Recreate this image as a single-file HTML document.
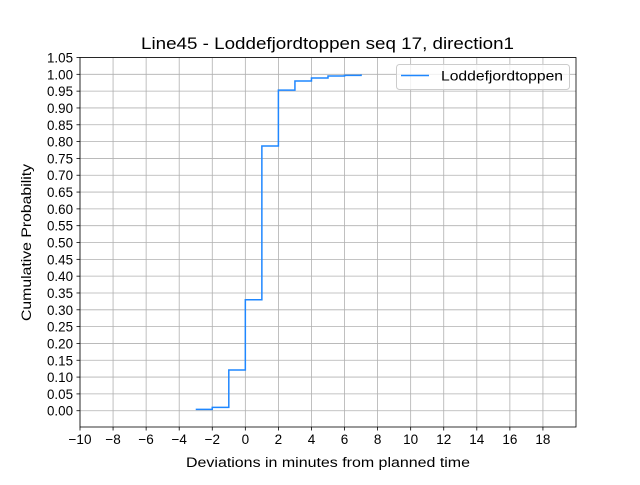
<!DOCTYPE html>
<html><head><meta charset="utf-8"><style>
body{margin:0;background:#fff;}
svg text{font-family:"Liberation Sans",sans-serif;}
</style></head><body>
<svg id="chart" width="640" height="480" xmlns="http://www.w3.org/2000/svg">
<g id="grid"></g>
<g id="xticks"></g>
<g id="yticks"></g>
<path id="series" fill="none" stroke="#1f87ff" stroke-width="1.5"/>
<rect x="80" y="57.5" width="496" height="369.5" fill="none" stroke="#000" stroke-width="0.8"/>
<text x="141" y="49" font-size="16.5" textLength="373" lengthAdjust="spacingAndGlyphs">Line45 - Loddefjordtoppen seq 17, direction1</text>
<text x="186" y="467" font-size="13.5" textLength="284" lengthAdjust="spacingAndGlyphs">Deviations in minutes from planned time</text>
<text transform="translate(31,321) rotate(-90)" font-size="13.5" textLength="157" lengthAdjust="spacingAndGlyphs">Cumulative Probability</text>
<g>
<rect x="396.5" y="64.5" width="173" height="25" rx="3" fill="#fff" fill-opacity="0.8" stroke="#ccc"/>
<line x1="401" y1="75.5" x2="429" y2="75.5" stroke="#1f87ff" stroke-width="1.5"/>
<text x="441" y="80.5" font-size="13.5" textLength="122" lengthAdjust="spacingAndGlyphs">Loddefjordtoppen</text>
</g>
</svg>
<script>
const xValues=[-3,-2,-1,0,1,2,3,4,5,6,7];
const yValues=[0.004,0.01,0.121,0.33,0.787,0.953,0.98,0.989,0.995,0.997,1.0];
const xTickLabels=["−10","−8","−6","−4","−2","0","2","4","6","8","10","12","14","16","18"];
const xTickValues=[-10,-8,-6,-4,-2,0,2,4,6,8,10,12,14,16,18];
const yTickValues=[0,0.05,0.1,0.15,0.2,0.25,0.3,0.35,0.4,0.45,0.5,0.55,0.6,0.65,0.7,0.75,0.8,0.85,0.9,0.95,1.0,1.05];
const X0=80,X1=576,Y0=427,Y1=57.5;
const xmin=-10,xmax=20,ymin=-0.0484,ymax=1.05;
function sx(v){return X0+(v-xmin)/(xmax-xmin)*(X1-X0);}
function sy(v){return Y0-(v-ymin)/(ymax-ymin)*(Y0-Y1);}
const NS="http://www.w3.org/2000/svg";
const grid=document.getElementById('grid'),xt=document.getElementById('xticks'),yt=document.getElementById('yticks');
function mk(tag,attrs,parent){const e=document.createElementNS(NS,tag);for(const k in attrs)e.setAttribute(k,attrs[k]);parent.appendChild(e);return e;}
xTickValues.forEach((v,i)=>{
  const x=sx(v);
  const g=mk('line',{x1:x,x2:x,y1:Y1,y2:Y0,stroke:'#b0b0b0','stroke-width':0.8},grid);
  
  
  mk('line',{x1:x,x2:x,y1:Y0,y2:Y0+3.5,stroke:'#000','stroke-width':0.8},xt);
  const t=mk('text',{x:x,y:Y0+17,'font-size':13.5,'text-anchor':'middle'},xt);
  t.textContent=xTickLabels[i];
  
  
});
yTickValues.forEach(v=>{
  const y=sy(v);
  const g=mk('line',{x1:X0,x2:X1,y1:y,y2:y,stroke:'#b0b0b0','stroke-width':0.8},grid);
  
  
  mk('line',{x1:X0-3.5,x2:X0,y1:y,y2:y,stroke:'#000','stroke-width':0.8},yt);
  const t=mk('text',{x:X0-7-26,y:y+5,'font-size':13.5,textLength:26,lengthAdjust:'spacingAndGlyphs'},yt);
  t.textContent=v.toFixed(2);
  
  
});
let d='';
xValues.forEach((v,i)=>{
  if(i===0)d+='M'+sx(v)+','+sy(yValues[i]);
  else d+=' H'+sx(v)+' V'+sy(yValues[i]);
});
document.getElementById('series').setAttribute('d',d);
</script>
</body></html>
